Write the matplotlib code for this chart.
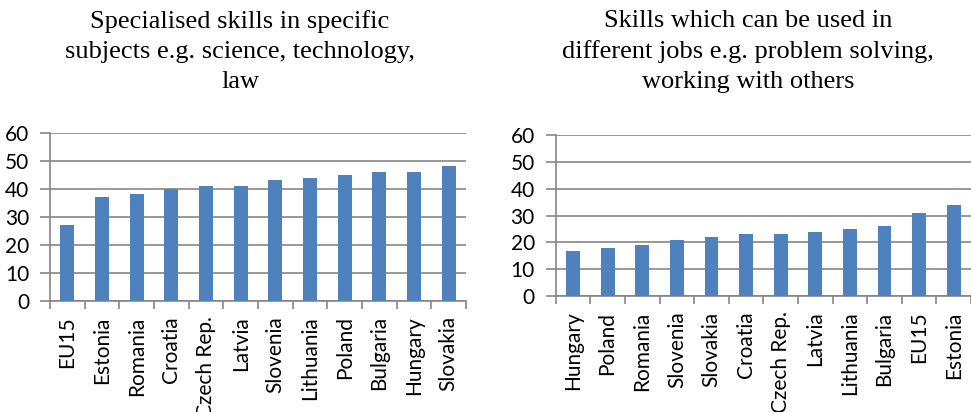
import matplotlib
matplotlib.use("Agg")
import matplotlib.pyplot as plt
import numpy as np

# Share of respondents (%) naming each type of skill
left_countries = ["EU15", "Estonia", "Romania", "Croatia", "Czech Rep.", "Latvia",
                  "Slovenia", "Lithuania", "Poland", "Bulgaria", "Hungary", "Slovakia"]
left_values = [27, 37, 38, 40, 41, 41, 43, 44, 45, 46, 46, 48]

right_countries = ["Hungary", "Poland", "Romania", "Slovenia", "Slovakia", "Croatia",
                   "Czech Rep.", "Latvia", "Lithuania", "Bulgaria", "EU15", "Estonia"]
right_values = [17, 18, 19, 21, 22, 23, 23, 24, 25, 26, 31, 34]

left_title = "Specialised skills in specific\nsubjects e.g. science, technology,\nlaw"
right_title = "Skills which can be used in\ndifferent jobs e.g. problem solving,\nworking with others"

y_ticks = [0, 10, 20, 30, 40, 50, 60]

BAR = "#4F81BD"
GRID = "#868686"
TICK_FONT = "Lato"
TITLE_FONT = "Liberation Serif"
TICK_SIZE = 15


def draw_panel(fig, rect, cats, vals):
    ax = fig.add_axes(rect)
    x = np.arange(len(cats))
    ax.bar(x, vals, width=0.4, color=BAR, zorder=3)
    ax.set_xlim(-0.5, len(cats) - 0.5)
    ax.set_ylim(0, 60)
    ax.set_yticks(y_ticks)
    ax.yaxis.grid(True, color=GRID, linewidth=1.2, zorder=0)
    ax.set_xticks(x)
    ax.set_xticklabels(cats, rotation=90, fontfamily=TICK_FONT, fontsize=TICK_SIZE)
    ax.tick_params(axis="x", which="major", length=0, pad=11)
    # category boundary tick marks
    ax.set_xticks(np.arange(len(cats) + 1) - 0.5, minor=True)
    ax.tick_params(axis="x", which="minor", length=6, width=1.2, color=GRID)
    ax.tick_params(axis="y", length=7, width=1.2, color=GRID, pad=8)
    for lab in ax.get_yticklabels():
        lab.set_fontfamily(TICK_FONT)
        lab.set_fontsize(TICK_SIZE)
    for side in ["top", "right"]:
        ax.spines[side].set_visible(False)
    for side in ["left", "bottom"]:
        ax.spines[side].set_color(GRID)
        ax.spines[side].set_linewidth(1.2)
    return ax


fig = plt.figure(figsize=(9.71, 4.12), dpi=100)
fig.patch.set_facecolor("white")

draw_panel(fig, [0.0515, 0.2694, 0.4284, 0.4085], left_countries, left_values)
draw_panel(fig, [0.5723, 0.2808, 0.4277, 0.392], right_countries, right_values)

fig.text(240 / 971, 1 - 10 / 412, left_title, ha="center", va="top",
         fontfamily=TITLE_FONT, fontsize=19, linespacing=1.47)
fig.text(748 / 971, 1 - 10 / 412, right_title, ha="center", va="top",
         fontfamily=TITLE_FONT, fontsize=19, linespacing=1.47)

fig.savefig("out.png", dpi=100, facecolor="white")
